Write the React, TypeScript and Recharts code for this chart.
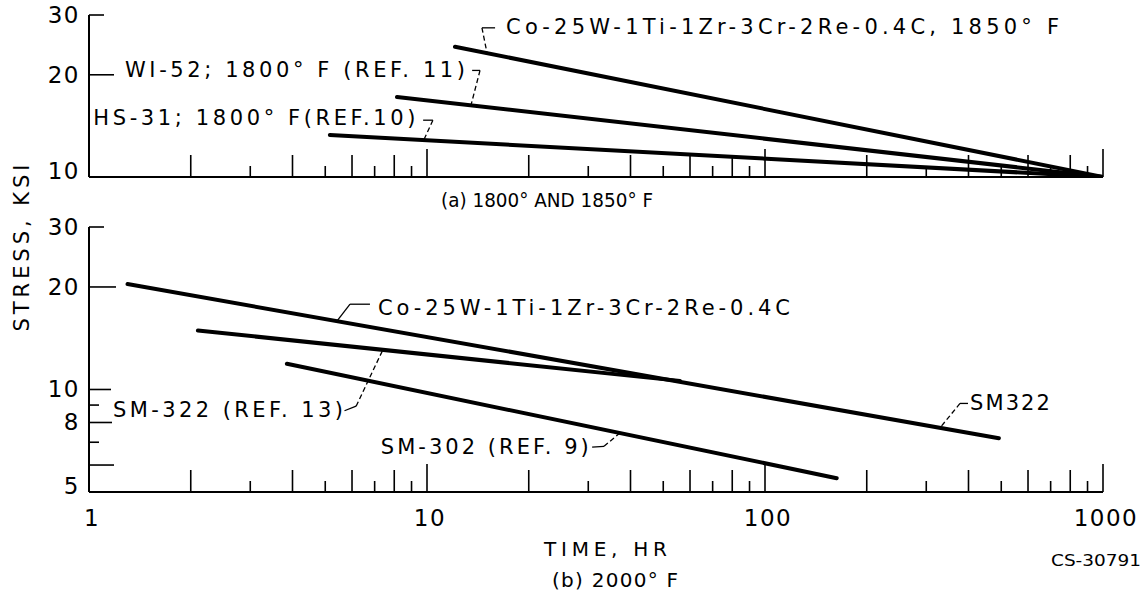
import React from 'react';
import { LineChart, Line, XAxis, YAxis, ReferenceLine, ReferenceDot } from 'recharts';

// ---------- data ----------
const timeTicks = [1, 2, 3, 4, 5, 6, 7, 8, 9, 10, 20, 30, 40, 50, 60, 70, 80, 90, 100, 200, 300, 400, 500, 600, 700, 800, 900, 1000];
const timeTickLabels = [1, 10, 100, 1000];
const stressTicksA = [10, 20, 30];
const stressLabelsA = [10, 20, 30];
const stressTicksB = [5, 6, 7, 8, 9, 10, 20, 30];
const stressLabelsB = [5, 8, 10, 20, 30];

// (a) 1800 and 1850 F
const coA_time = [12.1, 1000];
const coA_stress = [24.2, 10];
const wi52_time = [8.15, 1000];
const wi52_stress = [17.2, 10];
const hs31_time = [5.16, 1000];
const hs31_stress = [13.3, 10];

// (b) 2000 F
const coB_time = [1.3, 492];
const coB_stress = [20.4, 7.19];
const sm322_time = [2.1, 56];
const sm322_stress = [14.9, 10.6];
const sm302_time = [3.85, 163];
const sm302_stress = [11.9, 5.49];

const zip = (t: number[], s: number[]) => t.map((v, i) => ({ t: v, s: s[i] }));

// ---------- styles ----------
const FONT = '"DejaVu Sans", sans-serif';
const W = 1147;

const xTickLen = (v: number) => {
  if (v === 1) return 0;
  const p = Math.pow(10, Math.floor(Math.log10(v) + 1e-9));
  const m = Math.round(v / p);
  if (m === 1) return 28;
  return m % 2 === 0 ? 22 : 11;
};

const makeXTick = (showLabels: boolean) => (props: any) => {
  const { x, y, payload } = props;
  const v = payload.value;
  const len = xTickLen(v);
  return (
    <g>
      {len > 0 && <line x1={x} x2={x} y1={y} y2={y - len} stroke="#000" strokeWidth={1.6} />}
      {showLabels && timeTickLabels.includes(v) && (
        <text x={x + 3} y={y + 26} textAnchor="middle" dominantBaseline="central" fontFamily={FONT} fontSize={23} letterSpacing={1.5} fill="#000">
          {v}
        </text>
      )}
    </g>
  );
};

const yLenA: Record<number, number> = { 30: 15, 20: 25, 10: 0 };
const yLenB: Record<number, number> = { 30: 15, 20: 27, 10: 22, 9: 10, 8: 23, 7: 10, 6: 25, 5: 0 };

const makeYTick = (lens: Record<number, number>, labels: number[], low: number) => (props: any) => {
  const { x, y, payload } = props;
  const v = payload.value;
  const len = lens[v] || 0;
  return (
    <g>
      {len > 0 && <line x1={x} x2={x + len} y1={y} y2={y} stroke="#000" strokeWidth={1.6} />}
      {labels.includes(v) && (
        <text x={x - 9} y={v === low ? y - 6 : y} textAnchor="end" dominantBaseline="central" fontFamily={FONT} fontSize={23} letterSpacing={1.5} fill="#000">
          {v}
        </text>
      )}
    </g>
  );
};

const note = (text: string, width: number, size = 21) => (p: any) => (
  <text x={p.cx} y={p.cy} dominantBaseline="central" textLength={width} lengthAdjust="spacing" fontFamily={FONT} fontSize={size} fill="#000">
    {text}
  </text>
);

const lineProps = {
  type: 'linear' as const,
  dataKey: 's',
  stroke: '#000',
  strokeWidth: 4,
  dot: false,
  isAnimationActive: false,
  strokeLinecap: 'round' as const,
};

const dash = { stroke: '#000', strokeWidth: 1.3, strokeDasharray: '5 3' };
const solid = { stroke: '#000', strokeWidth: 1.3 };

export default function App() {
  return (
    <div style={{ position: 'absolute', left: 0, top: 0, width: W, height: 596, background: '#fff' }}>
      {/* Panel (a) */}
      <div style={{ position: 'absolute', left: 0, top: 0 }}>
        <LineChart width={W} height={200} margin={{ top: 15, right: 44, bottom: 0, left: 0 }}>
          <XAxis
            dataKey="t"
            type="number"
            scale="log"
            domain={[1, 1000]}
            allowDataOverflow
            ticks={timeTicks}
            interval={0}
            tickSize={0}
            tickMargin={0}
            height={23}
            tickLine={false}
            axisLine={{ stroke: '#000', strokeWidth: 2 }}
            tick={makeXTick(false)}
          />
          <YAxis
            type="number"
            scale="log"
            domain={[10, 30]}
            allowDataOverflow
            ticks={stressTicksA}
            interval={0}
            tickSize={0}
            tickMargin={0}
            width={89}
            tickLine={false}
            axisLine={{ stroke: '#000', strokeWidth: 2 }}
            tick={makeYTick(yLenA, stressLabelsA, 10)}
          />
          <Line {...lineProps} data={zip(coA_time, coA_stress)} />
          <Line {...lineProps} data={zip(wi52_time, wi52_stress)} />
          <Line {...lineProps} data={zip(hs31_time, hs31_stress)} />

          {/* Co-25W leader */}
          <ReferenceLine segment={[{ x: 14.54, y: 27.5 }, { x: 15.9, y: 27.5 }]} {...solid} />
          <ReferenceLine segment={[{ x: 14.54, y: 27.5 }, { x: 15.05, y: 23.2 }]} {...dash} />
          {/* WI-52 leader */}
          <ReferenceLine segment={[{ x: 13.6, y: 20.6 }, { x: 14.35, y: 20.6 }]} {...solid} />
          <ReferenceLine segment={[{ x: 14.35, y: 20.6 }, { x: 13.5, y: 16.3 }]} {...dash} />
          {/* HS-31 leader */}
          <ReferenceLine segment={[{ x: 9.74, y: 14.7 }, { x: 10.41, y: 14.7 }]} {...solid} />
          <ReferenceLine segment={[{ x: 10.41, y: 14.7 }, { x: 9.8, y: 12.9 }]} {...dash} />

          <ReferenceDot x={17.13} y={27.6} r={1} shape={note('Co-25W-1Ti-1Zr-3Cr-2Re-0.4C, 1850° F', 553)} />
          <ReferenceDot x={1.278} y={20.7} r={1} shape={note('WI-52; 1800° F (REF. 11)', 340)} />
          <ReferenceDot x={1.03} y={14.9} r={1} shape={note('HS-31; 1800° F(REF.10)', 322)} />
        </LineChart>
      </div>

      {/* Panel (b) */}
      <div style={{ position: 'absolute', left: 0, top: 200 }}>
        <LineChart width={W} height={396} margin={{ top: 27, right: 44, bottom: 0, left: 0 }}>
          <XAxis
            dataKey="t"
            type="number"
            scale="log"
            domain={[1, 1000]}
            allowDataOverflow
            ticks={timeTicks}
            interval={0}
            tickSize={0}
            tickMargin={0}
            height={104}
            tickLine={false}
            axisLine={{ stroke: '#000', strokeWidth: 2 }}
            tick={makeXTick(true)}
          />
          <YAxis
            type="number"
            scale="log"
            domain={[5, 30]}
            allowDataOverflow
            ticks={stressTicksB}
            interval={0}
            tickSize={0}
            tickMargin={0}
            width={89}
            tickLine={false}
            axisLine={{ stroke: '#000', strokeWidth: 2 }}
            tick={makeYTick(yLenB, stressLabelsB, 5)}
          />
          <Line {...lineProps} data={zip(coB_time, coB_stress)} />
          <Line {...lineProps} data={zip(sm322_time, sm322_stress)} />
          <Line {...lineProps} data={zip(sm302_time, sm302_stress)} />

          {/* Co-25W leader */}
          <ReferenceLine segment={[{ x: 6.78, y: 17.8 }, { x: 5.92, y: 17.8 }]} {...solid} />
          <ReferenceLine segment={[{ x: 5.92, y: 17.8 }, { x: 5.42, y: 15.9 }]} {...solid} />
          {/* SM-322 (REF. 13) leader */}
          <ReferenceLine segment={[{ x: 5.7, y: 8.66 }, { x: 6.17, y: 8.93 }]} {...solid} />
          <ReferenceLine segment={[{ x: 6.17, y: 8.93 }, { x: 7.41, y: 13.1 }]} {...dash} />
          {/* SM-302 leader */}
          <ReferenceLine segment={[{ x: 30.8, y: 6.77 }, { x: 33.4, y: 6.81 }]} {...solid} />
          <ReferenceLine segment={[{ x: 33.4, y: 6.81 }, { x: 37.2, y: 7.45 }]} {...dash} />
          {/* SM322 leader */}
          <ReferenceLine segment={[{ x: 398.6, y: 9.1 }, { x: 377.5, y: 9.1 }]} {...solid} />
          <ReferenceLine segment={[{ x: 377.5, y: 9.1 }, { x: 329.5, y: 7.72 }]} {...dash} />

          <ReferenceDot x={7.16} y={17.4} r={1} shape={note('Co-25W-1Ti-1Zr-3Cr-2Re-0.4C', 412)} />
          <ReferenceDot x={1.178} y={8.69} r={1} shape={note('SM-322 (REF. 13)', 230)} />
          <ReferenceDot x={7.3} y={6.77} r={1} shape={note('SM-302 (REF. 9)', 208)} />
          <ReferenceDot x={404} y={9.15} r={1} shape={note('SM322', 80)} />
        </LineChart>
      </div>

      {/* Captions */}
      <svg width={W} height={596} style={{ position: 'absolute', left: 0, top: 0, pointerEvents: 'none' }}>
        <text x={441} y={200} dominantBaseline="central" textLength={212} lengthAdjust="spacingAndGlyphs" fontFamily={FONT} fontSize={20} fill="#000">
          (a) 1800° AND 1850° F
        </text>
        <text
          x={0}
          y={0}
          transform="translate(22,248) rotate(-90)"
          textAnchor="middle"
          dominantBaseline="central"
          textLength={167}
          lengthAdjust="spacing"
          fontFamily={FONT}
          fontSize={21}
          fill="#000"
        >
          STRESS, KSI
        </text>
        <text x={544} y={549} dominantBaseline="central" textLength={123} lengthAdjust="spacing" fontFamily={FONT} fontSize={20} fill="#000">
          TIME, HR
        </text>
        <text x={1051} y={561} dominantBaseline="central" textLength={90} lengthAdjust="spacingAndGlyphs" fontFamily={FONT} fontSize={15} fill="#000">
          CS-30791
        </text>
        <text x={552} y={580} dominantBaseline="central" textLength={126} lengthAdjust="spacing" fontFamily={FONT} fontSize={20} fill="#000">
          (b) 2000° F
        </text>
      </svg>
    </div>
  );
}
